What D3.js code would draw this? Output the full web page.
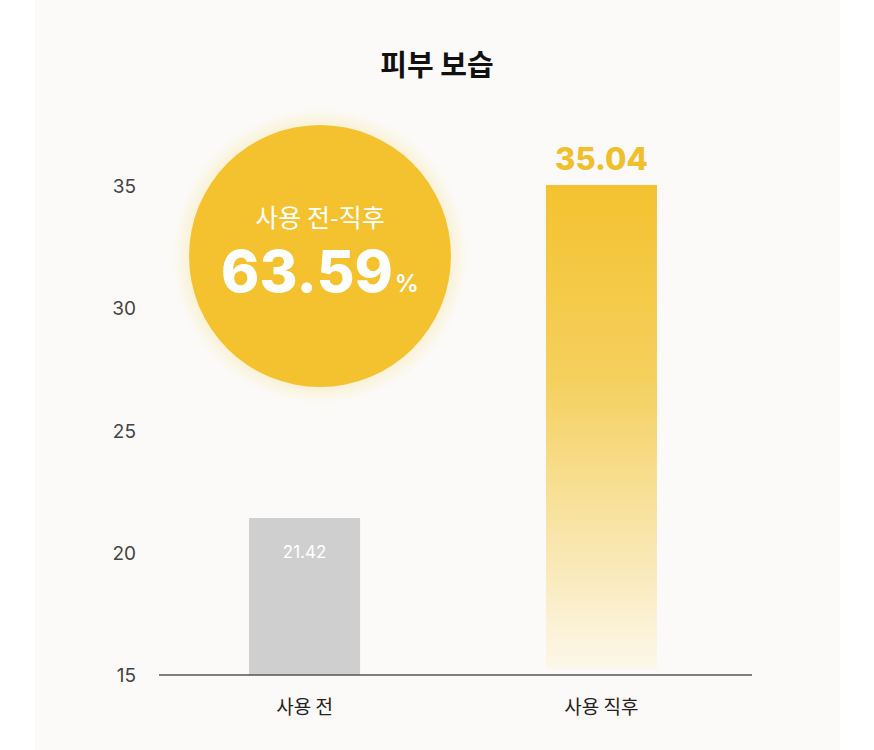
<!DOCTYPE html>
<html><head><meta charset="utf-8">
<script src="https://cdn.jsdelivr.net/npm/d3@7"></script>
<style>body{margin:0;background:#fff;font-family:"Noto Sans CJK KR","Noto Sans",sans-serif;}</style>
</head><body><div id="chart"></div>
<script>
const categories = ['사용 전', '사용 직후'];
const values = [21.42, 35.04];
const yTicks = [15, 20, 25, 30, 35];
const changeLabel = '사용 전-직후';
const changePct = '63.59';

const width = 874, height = 750;
const svg = d3.select('#chart').append('svg').attr('width', width).attr('height', height);

svg.append('rect').attr('x', 35).attr('y', 0).attr('width', 805).attr('height', height).attr('fill', '#fbfaf8');

const defs = svg.append('defs');
const g = defs.append('linearGradient').attr('id', 'yg').attr('x1', 0).attr('y1', 0).attr('x2', 0).attr('y2', 1);
g.append('stop').attr('offset', '0%').attr('stop-color', '#f4c22f');
g.append('stop').attr('offset', '40%').attr('stop-color', '#f5d05e');
g.append('stop').attr('offset', '100%').attr('stop-color', '#fcf7ea');
const halo = defs.append('radialGradient').attr('id', 'halo');
halo.append('stop').attr('offset', '85%').attr('stop-color', '#f5d76a').attr('stop-opacity', 0.3);
halo.append('stop').attr('offset', '100%').attr('stop-color', '#f5d76a').attr('stop-opacity', 0);

const x = d3.scaleBand().domain(categories).range([157, 749]).paddingInner(0.626).paddingOuter(0.31);
const y = d3.scaleLinear().domain([15, 35]).range([675, 186]);

svg.append('text').attr('x', 437).attr('y', 76).attr('text-anchor', 'middle')
  .attr('font-size', 29).attr('font-weight', 700).attr('fill', '#111').text('피부 보습');

svg.selectAll('.tick-label').data(yTicks).enter().append('text')
  .attr('x', 136).attr('y', d => y(d) + 7).attr('text-anchor', 'end')
  .attr('font-family', 'Inter, "Noto Sans", sans-serif')
  .attr('font-size', 19).attr('fill', '#444').text(d => d);

svg.selectAll('.bar').data(values).enter().append('rect')
  .attr('x', (d, i) => x(categories[i])).attr('width', x.bandwidth())
  .attr('y', d => y(d)).attr('height', d => y(15) - y(d) - (d === values[1] ? 6 : 0))
  .attr('fill', (d, i) => i === 0 ? '#cfcfcf' : 'url(#yg)');

svg.append('line').attr('x1', 159).attr('x2', 752).attr('y1', 675).attr('y2', 675)
  .attr('stroke', '#555').attr('stroke-width', 1.5);

svg.selectAll('.cat').data(categories).enter().append('text')
  .attr('x', d => x(d) + x.bandwidth() / 2).attr('y', 714).attr('text-anchor', 'middle')
  .attr('font-size', 19).attr('fill', '#222').text(d => d);

svg.append('text').attr('x', x(categories[0]) + x.bandwidth() / 2).attr('y', y(values[0]) + 40)
  .attr('text-anchor', 'middle').attr('font-family', 'Inter, "Noto Sans", sans-serif')
  .attr('font-size', 17).attr('fill', '#fff').text(values[0].toFixed(2));
svg.append('text').attr('x', x(categories[1]) + x.bandwidth() / 2).attr('y', y(values[1]) - 15)
  .attr('text-anchor', 'middle').attr('font-family', 'Inter, "Noto Sans", sans-serif')
  .attr('font-size', 31).attr('font-weight', 800).attr('fill', '#f0bf2c').text(values[1].toFixed(2));

const cx = 320, cy = 256;
svg.append('circle').attr('cx', cx).attr('cy', cy).attr('r', 148).attr('fill', 'url(#halo)');
svg.append('circle').attr('cx', cx).attr('cy', cy).attr('r', 131).attr('fill', '#f4c22f');
svg.append('text').attr('x', cx).attr('y', 227).attr('text-anchor', 'middle')
  .attr('font-size', 25).attr('fill', '#fff').text(changeLabel);
const t = svg.append('text').attr('x', cx).attr('y', 292).attr('text-anchor', 'middle')
  .attr('font-family', 'Inter, "Noto Sans", sans-serif').attr('fill', '#fff');
t.append('tspan').attr('font-size', 58).attr('font-weight', 800).text(changePct);
t.append('tspan').attr('font-size', 24).attr('font-weight', 600).attr('dx', 2).text('%');
</script></body></html>
